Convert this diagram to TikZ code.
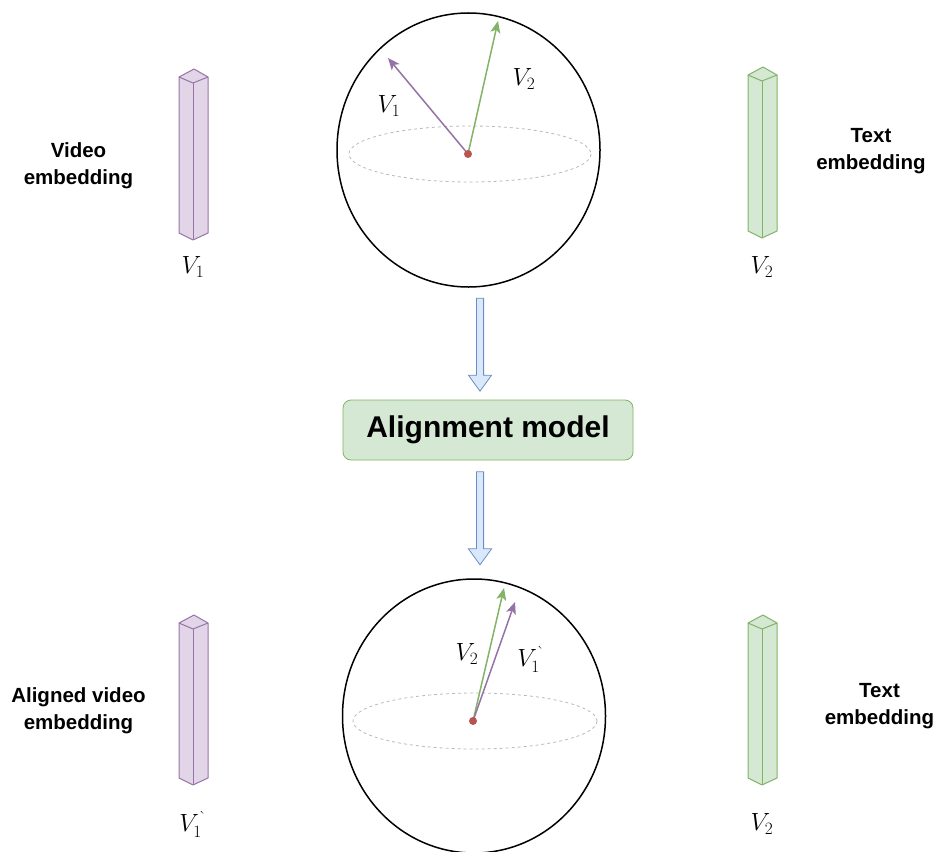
\documentclass[tikz,border=0pt]{standalone}
\usepackage{amsmath}
\usepackage[no-math]{fontspec}
\newfontfamily\arialfont{Liberation Sans}
\usepackage{xcolor}
\usepackage{tikz}
\usetikzlibrary{arrows.meta, positioning, shapes.arrows, shapes.geometric}

\definecolor{vidfill}{HTML}{E1D5E7}
\definecolor{viddraw}{HTML}{9673A6}
\definecolor{txtfill}{HTML}{D5E8D4}
\definecolor{txtdraw}{HTML}{82B366}
\definecolor{arrfill}{HTML}{DAE8FC}
\definecolor{arrdraw}{HTML}{6C8EBF}
\definecolor{dotred}{HTML}{B85450}

% #1 x of front edge, #2 top, #3 bottom, #4 fill, #5 line
\newcommand{\embbar}[5]{%
  \filldraw[fill=#4, draw=#5, line width=1pt, line join=round]
    (#1-14,#2+8) -- (#1+1,#2) -- (#1+15,#2+8) -- (#1+15,#3-7) -- (#1,#3) -- (#1-14,#3-7) -- cycle;
  \draw[draw=#5, line width=1pt, line join=round] (#1-14,#2+8) -- (#1,#2+14) -- (#1+15,#2+8);
  \draw[draw=#5, line width=1pt] (#1,#2+14) -- (#1,#3);
}

\begin{document}
\begin{tikzpicture}[
    x=1pt, y=-1pt,
    sphere/.style={draw, ellipse, line width=1.5pt, minimum width=263pt, minimum height=274pt, inner sep=0pt},
    equator/.style={draw=gray!55, dashed, dash pattern=on 3pt off 3pt, line width=0.8pt},
    vec/.style={line width=1.5pt, -{Stealth[length=12pt, width=10pt, inset=3pt]}},
    mlabel/.style={font=\fontsize{23}{27}\selectfont, inner sep=0pt},
    caption/.style={font=\arialfont\bfseries\fontsize{20.5}{27}\selectfont, align=center, inner sep=0pt},
    bigarrow/.style={single arrow, draw=arrdraw, fill=arrfill, line width=0.8pt, rotate=-90,
                     minimum height=93pt, single arrow head extend=8pt,
                     single arrow tip angle=72, inner sep=3.2pt, anchor=tail},
    modelbox/.style={draw=txtdraw, fill=txtfill, rounded corners=8pt, line width=0.8pt,
                     minimum width=290pt, minimum height=60pt,
                     font=\arialfont\bfseries\fontsize{30}{36}\selectfont}
]
\useasboundingbox (0,0) rectangle (936,851);

% top row
\embbar{193}{69}{240}{vidfill}{viddraw}
\embbar{762}{67}{238}{txtfill}{txtdraw}
\node[caption] (vidtxt) at (78.5,166) {Video\\embedding};
\node[caption] (txttxt) at (871,151.5) {Text\\embedding};
\node[mlabel] (v1bar) at (193,267) {$V_1$};
\node[mlabel] (v2bar) at (762,267) {$V_2$};

\node[sphere] (s1) at (468.5,150) {};
\draw[equator] (470,154) ellipse[x radius=121, y radius=28];
\coordinate (o1) at (468,154);
\coordinate (p1) at (388,58);
\coordinate (q1) at (498,21);
\draw[vec, viddraw] (o1) -- (p1);
\draw[vec, txtdraw] (o1) -- (q1);
\fill[dotred] (o1) circle[radius=4];
\node[mlabel] (v1s) at (389,106) {$V_1$};
\node[mlabel] (v2s) at (524,79) {$V_2$};

% model
\node[bigarrow] (a1) at ([xshift=11.5pt, yshift=-10pt]s1.south) {};
\node[modelbox] (model) at (488,430) {Alignment model};
\node[bigarrow] (a2) at ([yshift=-11pt]model.south -| a1.tail) {};

% bottom row
\embbar{193}{615}{785}{vidfill}{viddraw}
\embbar{762}{615}{785}{txtfill}{txtdraw}
\node[caption] (alitxt) at (78.5,711) {Aligned video\\embedding};
\node[caption] (txttxt2) at (879.5,706.5) {Text\\embedding};
\node[mlabel] (v1bar2) at (193,824) {$V_1^{\text{\textasciigrave}}$};
\node[mlabel] (v2bar2) at (762,824) {$V_2$};

\node[sphere] (s2) at (474,716) {};
\draw[equator] (475,721) ellipse[x radius=122, y radius=28];
\coordinate (o2) at (473,721);
\coordinate (p2) at (515,602);
\coordinate (q2) at (504,588);
\draw[vec, txtdraw] (o2) -- (q2);
\draw[vec, viddraw] (o2) -- (p2);
\fill[dotred] (o2) circle[radius=4];
\node[mlabel] (v2s2) at (467,654) {$V_2$};
\node[mlabel] (v1s2) at (531,659) {$V_1^{\text{\textasciigrave}}$};
\end{tikzpicture}
\end{document}
